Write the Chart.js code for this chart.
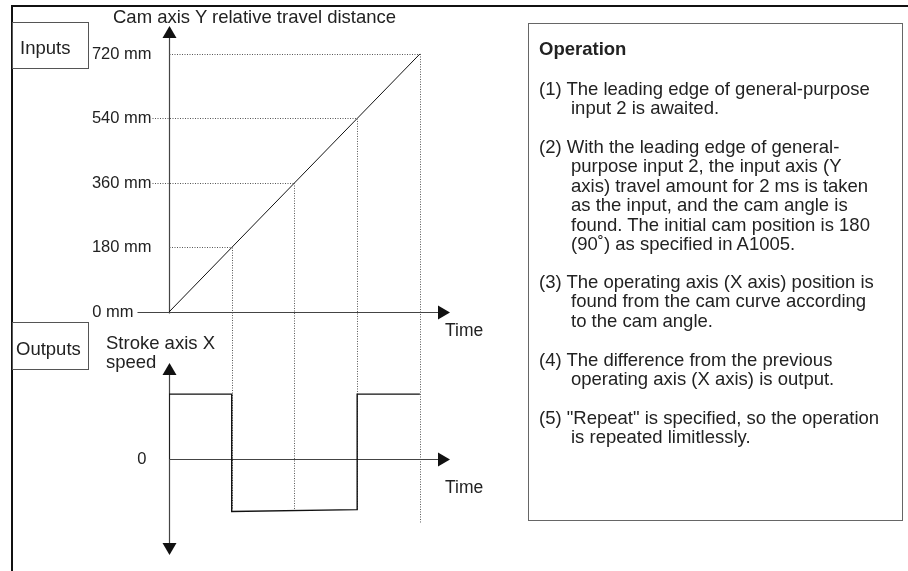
<!DOCTYPE html>
<html>
<head>
<meta charset="utf-8">
<script src="https://cdn.jsdelivr.net/npm/chart.js@4/dist/chart.umd.min.js"></script>
<style>
  body { margin: 0; background: #fff; font-family: 'Liberation Sans', Arial, sans-serif; color: #222; }
  #wrap { position: relative; width: 908px; height: 571px; overflow: hidden; }
  canvas { position: absolute; left: 0; top: 0; }
  .t { position: absolute; font-size: 18.5px; line-height: 19.4px; white-space: nowrap; }
  .box { position: absolute; border: 1px solid #555; box-sizing: border-box; }
  .p { position: absolute; left: 539px; font-size: 18.5px; line-height: 19.4px; white-space: nowrap; padding-left: 32px; text-indent: -32px; }
</style>
</head>
<body>
<div id="wrap">
  <canvas id="upper" width="908" height="571"></canvas>
  <canvas id="lower" width="908" height="571"></canvas>

  <div style="position:absolute;left:11px;top:5px;width:2px;height:566px;background:#111"></div>
  <div style="position:absolute;left:11px;top:5px;width:897px;height:2px;background:#111"></div>

  <div class="box" style="left:12px;top:22px;width:77px;height:47px"></div>
  <div class="t" style="left:20px;top:38px">Inputs</div>
  <div class="box" style="left:12px;top:322px;width:77px;height:48px"></div>
  <div class="t" style="left:16px;top:339px">Outputs</div>

  <div class="t" style="left:113px;top:7px">Cam axis Y relative travel distance</div>
  <div class="t" style="left:106px;top:333px;line-height:19px">Stroke axis X<br>speed</div>
  <div class="t" style="left:445px;top:321px;font-size:17.5px">Time</div>
  <div class="t" style="left:445px;top:478px;font-size:17.5px">Time</div>

  <div class="box" style="left:528px;top:23px;width:375px;height:498px;border-color:#666"></div>
  <div class="t" style="left:539px;top:39px;font-weight:bold">Operation</div>
  <div class="p" style="top:79px">(1) The leading edge of general-purpose<br>input 2 is awaited.</div>
  <div class="p" style="top:137px">(2) With the leading edge of general-<br>purpose input 2, the input axis (Y<br>axis) travel amount for 2 ms is taken<br>as the input, and the cam angle is<br>found. The initial cam position is 180<br>(90˚) as specified in A1005.</div>
  <div class="p" style="top:272px">(3) The operating axis (X axis) position is<br>found from the cam curve according<br>to the cam angle.</div>
  <div class="p" style="top:350px">(4) The difference from the previous<br>operating axis (X axis) is output.</div>
  <div class="p" style="top:408px">(5) "Repeat" is specified, so the operation<br>is repeated limitlessly.</div>
</div>

<script>
// values
const timeSteps = [0, 1, 2, 3, 4];
const camTravel = [0, 180, 360, 540, 720];
const travelTicks = [0, 180, 360, 540, 720];
const travelTickLabels = ['0 mm', '180 mm', '360 mm', '540 mm', '720 mm'];
const leaderTicks = [360, 540]; // dotted line also runs from the label to the axis
const speedTimes = [0, 0, 1, 1, 3, 3, 4];
const strokeSpeed = [0, 1, 1, -0.81, -0.78, 1, 1];

const FONT = "16.5px 'Liberation Sans', Arial, sans-serif";
const AXIS = '#444';

function arrow(ctx, x, y, dir) {
  // dir: 'up' | 'down' | 'right', (x, y) is the tip
  ctx.beginPath();
  if (dir === 'up') { ctx.moveTo(x, y); ctx.lineTo(x - 7, y + 12); ctx.lineTo(x + 7, y + 12); }
  if (dir === 'down') { ctx.moveTo(x, y); ctx.lineTo(x - 7, y - 12); ctx.lineTo(x + 7, y - 12); }
  if (dir === 'right') { ctx.moveTo(x, y); ctx.lineTo(x - 12, y - 7); ctx.lineTo(x - 12, y + 7); }
  ctx.closePath();
  ctx.fillStyle = '#111';
  ctx.fill();
}

function dotted(ctx, x1, y1, x2, y2) {
  ctx.save();
  ctx.strokeStyle = '#555';
  ctx.lineWidth = 1;
  ctx.setLineDash([1, 1.5]);
  ctx.beginPath();
  ctx.moveTo(x1, y1);
  ctx.lineTo(x2, y2);
  ctx.stroke();
  ctx.restore();
}

const upperAxes = {
  id: 'upperAxes',
  beforeDatasetsDraw(chart) {
    const ctx = chart.ctx, a = chart.chartArea;
    const xs = chart.scales.x, ys = chart.scales.y;
    const x0 = Math.round(xs.getPixelForValue(0)) + 0.5;
    const y0 = Math.round(ys.getPixelForValue(0)) + 0.5;
    ctx.save();
    ctx.strokeStyle = AXIS;
    ctx.lineWidth = 1.2;
    ctx.beginPath();
    ctx.moveTo(x0, a.top + 8); ctx.lineTo(x0, y0 + 1);
    ctx.moveTo(x0 - 32, y0); ctx.lineTo(a.right - 8, y0);
    ctx.stroke();
    arrow(ctx, x0, a.top, 'up');
    arrow(ctx, a.right, y0, 'right');

    ctx.font = FONT;
    ctx.fillStyle = '#222';
    ctx.textAlign = 'right';
    ctx.textBaseline = 'middle';
    travelTicks.forEach((v, i) => {
      const y = Math.round(ys.getPixelForValue(v)) + 0.5;
      const lx = v === 0 ? x0 - 36 : x0 - 18;
      ctx.fillText(travelTickLabels[i], lx, y);
      if (v === 0) return;
      const k = camTravel.indexOf(v);
      const xEnd = xs.getPixelForValue(timeSteps[k]);
      dotted(ctx, leaderTicks.includes(v) ? x0 - 17 : x0, y, xEnd, y);
    });
    ctx.restore();
  }
};

const upper = new Chart(document.getElementById('upper'), {
  type: 'line',
  data: {
    datasets: [{
      data: timeSteps.map((t, i) => ({ x: t, y: camTravel[i] })),
      borderColor: '#111',
      borderWidth: 1,
      pointRadius: 0,
      tension: 0
    }]
  },
  options: {
    responsive: false,
    animation: false,
    devicePixelRatio: 1,
    layout: { padding: { left: 169, right: 458, top: 26, bottom: 259 } },
    plugins: { legend: { display: false }, tooltip: { enabled: false } },
    scales: {
      x: { type: 'linear', display: false, min: 0, max: 4.48 },
      y: { type: 'linear', display: false, min: 0, max: 798 }
    }
  },
  plugins: [upperAxes]
});

const lowerAxes = {
  id: 'lowerAxes',
  beforeDatasetsDraw(chart) {
    const ctx = chart.ctx, a = chart.chartArea;
    const xs = chart.scales.x, ys = chart.scales.y;
    const x0 = Math.round(xs.getPixelForValue(0)) + 0.5;
    const y0 = Math.round(ys.getPixelForValue(0)) + 0.5;
    ctx.save();

    // guides from the travel curve down into the output plot
    const yLow = ys.getPixelForValue(Math.min(...strokeSpeed));
    const uy = upper.scales.y;
    timeSteps.forEach((t, i) => {
      if (i === 0) return;
      const x = Math.round(xs.getPixelForValue(t)) + 0.5;
      const yTop = uy.getPixelForValue(camTravel[i]);
      const yBot = i === timeSteps.length - 1 ? yLow + 12 : yLow - 2;
      dotted(ctx, x, yTop, x, yBot);
    });

    ctx.strokeStyle = AXIS;
    ctx.lineWidth = 1.2;
    ctx.beginPath();
    ctx.moveTo(x0, a.top + 8); ctx.lineTo(x0, a.bottom - 8);
    ctx.moveTo(x0, y0); ctx.lineTo(a.right - 8, y0);
    ctx.stroke();
    arrow(ctx, x0, a.top, 'up');
    arrow(ctx, x0, a.bottom, 'down');
    arrow(ctx, a.right, y0, 'right');

    ctx.font = FONT;
    ctx.fillStyle = '#222';
    ctx.textAlign = 'right';
    ctx.textBaseline = 'middle';
    ctx.fillText('0', x0 - 23, y0);
    ctx.restore();
  }
};

new Chart(document.getElementById('lower'), {
  type: 'line',
  data: {
    datasets: [{
      data: speedTimes.map((t, i) => ({ x: t, y: strokeSpeed[i] })),
      borderColor: '#111',
      borderWidth: 1.4,
      pointRadius: 0,
      tension: 0
    }]
  },
  options: {
    responsive: false,
    animation: false,
    devicePixelRatio: 1,
    layout: { padding: { left: 169, right: 458, top: 363, bottom: 16 } },
    plugins: { legend: { display: false }, tooltip: { enabled: false } },
    scales: {
      x: { type: 'linear', display: false, min: 0, max: 4.48 },
      y: { type: 'linear', display: false, min: -1.48, max: 1.48 }
    }
  },
  plugins: [lowerAxes]
});
</script>
</body>
</html>
